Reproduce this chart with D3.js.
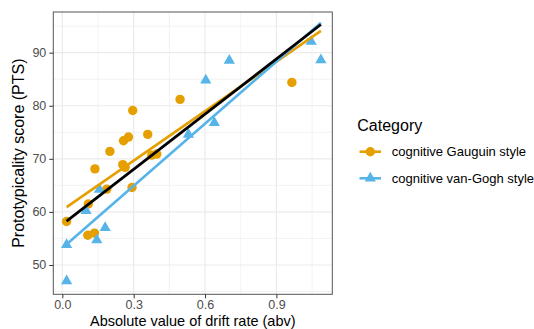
<!DOCTYPE html>
<html>
<head>
<meta charset="utf-8">
<script src="https://cdn.jsdelivr.net/npm/d3@7"></script>
<style>
  body { margin: 0; background: #fff; }
  svg { display: block; font-family: "Liberation Sans", Arial, sans-serif; }
</style>
</head>
<body>
<svg width="534" height="329"></svg>
<script>
// categories
const categories = ['cognitive Gauguin style', 'cognitive van-Gogh style'];

// cognitive Gauguin style (abs drift rate, PTS)
const gauguinX = [0.018, 0.109, 0.107, 0.135, 0.137, 0.200, 0.187, 0.257, 0.278, 0.254, 0.264, 0.296, 0.293, 0.359, 0.376, 0.397, 0.495, 0.965];
const gauguinY = [58.2, 61.5, 55.6, 56.0, 68.1, 71.4, 64.3, 73.4, 74.1, 68.9, 68.4, 79.1, 64.6, 74.6, 70.7, 70.9, 81.2, 84.4];

// cognitive van-Gogh style
const vanGoghX = [0.018, 0.018, 0.100, 0.156, 0.180, 0.145, 0.530, 0.639, 0.603, 0.702, 1.046, 1.087];
const vanGoghY = [53.8, 47.0, 60.2, 64.2, 57.0, 54.7, 74.6, 76.8, 84.8, 88.5, 92.1, 88.6];

const xTicks = [0.0, 0.3, 0.6, 0.9];
const yTicks = [50, 60, 70, 80, 90];
const xMinor = [0.15, 0.45, 0.75, 1.05];
const yMinor = [45, 55, 65, 75, 85, 95];

const colors = { 'cognitive Gauguin style': '#E69F00', 'cognitive van-Gogh style': '#56B4E9' };

const svg = d3.select('svg');
const panel = { left: 53.3, right: 332.3, top: 12, bottom: 294.3 };

const xScale = d3.scaleLinear().domain([-0.038, 1.135]).range([panel.left, panel.right]);
const yScale = d3.scaleLinear().domain([44.48, 97.66]).range([panel.bottom, panel.top]);

const groups = [
  { name: categories[0], pts: gauguinX.map((x, i) => ({ x, y: gauguinY[i] })) },
  { name: categories[1], pts: vanGoghX.map((x, i) => ({ x, y: vanGoghY[i] })) }
];
const allPts = groups[0].pts.concat(groups[1].pts);
const xExtent = d3.extent(allPts, d => d.x);

// ordinary least squares, like geom_smooth(method = 'lm')
function fit(pts) {
  const mx = d3.mean(pts, d => d.x), my = d3.mean(pts, d => d.y);
  const sxy = d3.sum(pts, d => (d.x - mx) * (d.y - my));
  const sxx = d3.sum(pts, d => (d.x - mx) ** 2);
  const b = sxy / sxx, a = my - b * mx;
  return xExtent.map(x => ({ x, y: a + b * x }));
}

/* panel background + grid */
svg.append('rect')
  .attr('x', panel.left).attr('y', panel.top)
  .attr('width', panel.right - panel.left).attr('height', panel.bottom - panel.top)
  .attr('fill', '#fff');

const grid = svg.append('g');
grid.selectAll('.xmin').data(xMinor).enter().append('line')
  .attr('x1', d => xScale(d)).attr('x2', d => xScale(d))
  .attr('y1', panel.top).attr('y2', panel.bottom)
  .attr('stroke', '#EBEBEB').attr('stroke-width', 0.6);
grid.selectAll('.ymin').data(yMinor).enter().append('line')
  .attr('y1', d => yScale(d)).attr('y2', d => yScale(d))
  .attr('x1', panel.left).attr('x2', panel.right)
  .attr('stroke', '#EBEBEB').attr('stroke-width', 0.6);
grid.selectAll('.xmaj').data(xTicks).enter().append('line')
  .attr('x1', d => xScale(d)).attr('x2', d => xScale(d))
  .attr('y1', panel.top).attr('y2', panel.bottom)
  .attr('stroke', '#EBEBEB').attr('stroke-width', 1.2);
grid.selectAll('.ymaj').data(yTicks).enter().append('line')
  .attr('y1', d => yScale(d)).attr('y2', d => yScale(d))
  .attr('x1', panel.left).attr('x2', panel.right)
  .attr('stroke', '#EBEBEB').attr('stroke-width', 1.2);

/* points */
const tri = 'M0,-6.5L5.6,3.25L-5.6,3.25Z';
const pointsG = svg.append('g');
pointsG.selectAll('circle').data(groups[0].pts).enter().append('circle')
  .attr('cx', d => xScale(d.x)).attr('cy', d => yScale(d.y))
  .attr('r', 4.7).attr('fill', colors[categories[0]]);
pointsG.selectAll('path').data(groups[1].pts).enter().append('path')
  .attr('d', tri)
  .attr('transform', d => `translate(${xScale(d.x)},${yScale(d.y)})`)
  .attr('fill', colors[categories[1]]);

/* fitted lines */
const line = d3.line().x(d => xScale(d.x)).y(d => yScale(d.y));
groups.forEach(g => {
  svg.append('path').attr('d', line(fit(g.pts)))
    .attr('fill', 'none').attr('stroke', colors[g.name]).attr('stroke-width', 2.6);
});
svg.append('path').attr('d', line(fit(allPts)))
  .attr('fill', 'none').attr('stroke', '#000').attr('stroke-width', 2.8);

/* panel border */
svg.append('rect')
  .attr('x', panel.left).attr('y', panel.top)
  .attr('width', panel.right - panel.left).attr('height', panel.bottom - panel.top)
  .attr('fill', 'none').attr('stroke', '#555').attr('stroke-width', 1);

/* axes */
const xAxis = svg.append('g').attr('transform', `translate(0,${panel.bottom})`)
  .call(d3.axisBottom(xScale).tickValues(xTicks).tickFormat(d3.format('.1f')).tickSize(4).tickPadding(2));
const yAxis = svg.append('g').attr('transform', `translate(${panel.left},0)`)
  .call(d3.axisLeft(yScale).tickValues(yTicks).tickSize(4).tickPadding(3));
[xAxis, yAxis].forEach(ax => {
  ax.select('.domain').remove();
  ax.selectAll('.tick line').attr('stroke', '#333');
  ax.selectAll('.tick text').attr('fill', '#4D4D4D')
    .style('font-size', '12.5px').style('font-family', '"Liberation Sans", Arial, sans-serif');
});

/* axis titles */
svg.append('text')
  .attr('x', (panel.left + panel.right) / 2).attr('y', 325.8)
  .attr('text-anchor', 'middle').style('font-size', '14.5px')
  .text('Absolute value of drift rate (abv)');
svg.append('text')
  .attr('transform', `translate(24,${(panel.top + panel.bottom) / 2}) rotate(-90)`)
  .attr('text-anchor', 'middle').style('font-size', '16px')
  .text('Prototypicality score (PTS)');

/* legend */
const legend = svg.append('g');
legend.append('text').attr('x', 357.3).attr('y', 130.5)
  .style('font-size', '16px').text('Category');
const keys = legend.selectAll('.key').data(categories).enter().append('g')
  .attr('transform', (d, i) => `translate(0,${151.7 + i * 26.6})`);
keys.append('line').attr('x1', 359.5).attr('x2', 381)
  .attr('stroke', d => colors[d]).attr('stroke-width', 2.6);
keys.each(function (d, i) {
  const k = d3.select(this);
  if (i === 0) {
    k.append('circle').attr('cx', 370.3).attr('cy', 0).attr('r', 4.7).attr('fill', colors[d]);
  } else {
    k.append('path').attr('d', tri).attr('transform', 'translate(370.3,0)').attr('fill', colors[d]);
  }
});
keys.append('text').attr('x', 391.7).attr('dy', '0.35em')
  .style('font-size', '13px').text(d => d);
</script>
</body>
</html>
